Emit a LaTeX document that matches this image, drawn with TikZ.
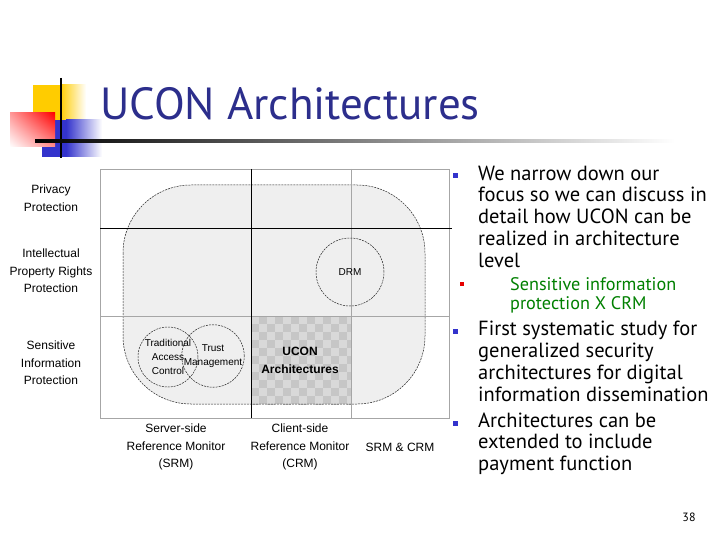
\documentclass[tikz,border=0pt]{standalone}
\usepackage{fontspec}
\setmainfont{Liberation Sans}
\newfontfamily\slidefont{PT Sans}
\usepackage{tikz}
\usetikzlibrary{positioning,shapes.geometric,shadings}

\definecolor{titleblue}{RGB}{44,46,140}
\definecolor{bulletblue}{RGB}{51,51,204}
\definecolor{bulletred}{RGB}{230,0,0}
\definecolor{subgreen}{RGB}{0,128,0}
\definecolor{logoyellow}{RGB}{255,204,0}
\definecolor{logoblue}{RGB}{51,51,204}
\definecolor{domaingray}{RGB}{239,239,239}

\begin{document}
\begin{tikzpicture}[
    x=1pt, y=-1pt,
    rowlabel/.style={align=center, font=\fontsize{12}{17.5}\selectfont},
    ringlabel/.style={circle, draw=black!85, line width=0.5pt, dash pattern=on 2pt off 1pt, align=center, inner sep=0pt, font=\fontsize{10}{14}\selectfont},
    bodytext/.style={align=left, anchor=base west, inner sep=0pt, font=\slidefont\fontsize{20.5}{21.7}\selectfont},
    subtext/.style={align=left, anchor=base west, inner sep=0pt, text=subgreen, font=\slidefont\fontsize{18.2}{19}\selectfont},
    bluebullet/.style={fill=bulletblue, minimum size=5pt, inner sep=0pt},
    redbullet/.style={fill=bulletred, minimum size=4pt, inner sep=0pt},
    blackrule/.style={draw=black, line width=0.8pt},
    grayrule/.style={draw=black!35, line width=0.8pt}
]
\useasboundingbox (0,0) rectangle (720,540);
\fill[white] (0,0) rectangle (720,540);

% Logo
\fill[logoyellow] (33,85) rectangle (60,121);
\shade[left color=logoyellow, right color=white] (60,85) rectangle (86,121);
\fill[logoblue] (42,120) rectangle (66,157);
\shade[left color=logoblue, right color=white] (66,120) rectangle (102,157);
\shade[upper right=red, upper left=red!40, lower right=red!45, lower left=white] (10,113) rectangle (55,147);
\draw[line width=2pt] (61,78) -- (61,158);
\shade[left color=black, right color=white] (35,140) rectangle (675,142.5);

% Title
\node[anchor=base west, inner sep=0pt, text=titleblue, font=\slidefont\fontsize{45}{50}\selectfont] (title) at (100,120) {UCON Architectures};

% Diagram frame
\draw[grayrule] (100,169) rectangle (449,418);
\fill[domaingray] (123,185) [rounded corners=68pt] -- (425,185) -- (425,404) -- (123,404) -- cycle;

% Checker square
\begin{scope}
\clip (251,316) rectangle (351,404);
\fill[gray!30] (251,316) rectangle (351,404);
\foreach \i in {0,...,12}{
  \foreach \j in {0,...,11}{
    \ifodd\numexpr\i+\j\relax
      \fill[gray!45] (251+8*\i,316+8*\j) rectangle ++(8,8);
    \fi
  }
}
\end{scope}
\draw[black!85, line width=0.5pt, dash pattern=on 2pt off 1pt, rounded corners=68pt] (123,185) rectangle (425,404);

% Grid lines
\draw[grayrule] (351,169) -- (351,418);
\draw[grayrule] (100,316) -- (449,316);
\draw[blackrule] (251,169) -- (251,418);
\draw[blackrule] (100,228) -- (452,228);

% Circles
\node[ringlabel, minimum size=68pt] (drm) at (350,272) {DRM};
\node[ringlabel, minimum size=60pt] (tac) at (168,357) {Traditional\\Access\\Control};
\node[ringlabel, minimum size=60pt] (trust) at (213,356) {Trust\\Management};
\node[align=center, font=\bfseries\fontsize{12}{18}\selectfont] (ucon) at (300,360) {UCON\\Architectures};

% Row labels
\node[rowlabel] (privacy) at (51,198) {Privacy\\Protection};
\node[rowlabel] (iprp) at (51,271) {Intellectual\\Property Rights\\Protection};
\node[rowlabel] (sip) at (51,363) {Sensitive\\Information\\Protection};

% Column labels
\node[rowlabel] (srm) at (176,447) {Server-side\\Reference Monitor\\(SRM)};
\node[rowlabel] (crm) at (300,447) {Client-side\\Reference Monitor\\(CRM)};
\node[rowlabel] (both) at (400,447) {SRM \& CRM};

% Bullet text (anchored at the last line's baseline)
\node[bluebullet] (b1) at (455.5,176) {};
\node[bodytext] (item1) at (478,267) {We narrow down our\\focus so we can discuss in\\detail how UCON can be\\realized in architecture\\level};
\node[redbullet] (s1) at (462,284) {};
\node[subtext] (sub1) at (510,309) {Sensitive information\\protection X CRM};
\node[bluebullet] (b2) at (455.5,331) {};
\node[bodytext] (item2) at (478,401) {First systematic study for\\generalized security\\architectures for digital\\information dissemination};
\node[bluebullet] (b3) at (455.5,423) {};
\node[bodytext] (item3) at (478,470.5) {Architectures can be\\extended to include\\payment function};

% Page number
\node[font=\slidefont\fontsize{12}{14}\selectfont] (page) at (689,517) {38};
\end{tikzpicture}
\end{document}
